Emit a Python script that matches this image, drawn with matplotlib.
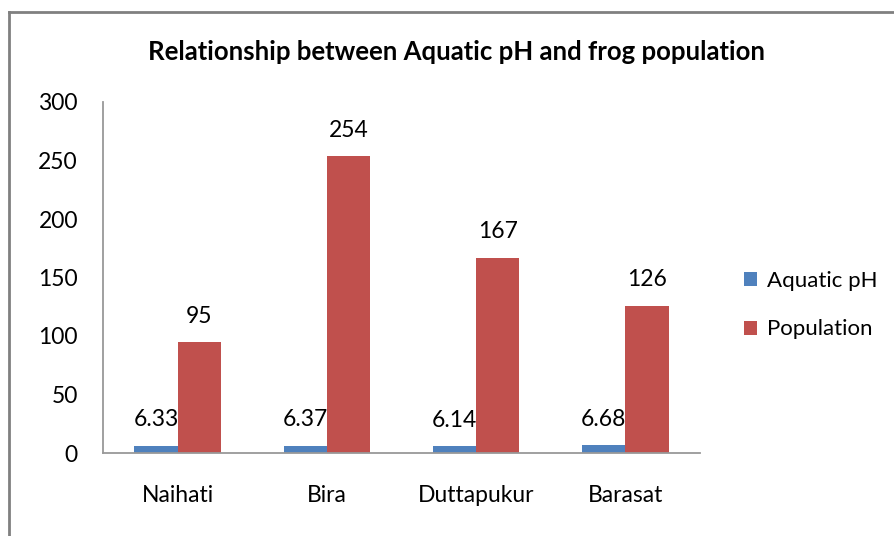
import matplotlib.pyplot as plt
import numpy as np
from matplotlib.lines import Line2D

plt.rcParams['font.family'] = ['Lato', 'DejaVu Sans']

# data
sites = ["Naihati", "Bira", "Duttapukur", "Barasat"]
aquatic_ph = [6.33, 6.37, 6.14, 6.68]
population = [95, 254, 167, 126]
y_ticks = [0, 50, 100, 150, 200, 250, 300]

fig = plt.figure(figsize=(8.95, 5.36), dpi=100)
ax = fig.add_axes([103 / 895, 1 - 453 / 536, 597 / 895, 351 / 536])

x = np.arange(len(sites))
w = 0.29
b1 = ax.bar(x - w / 2, aquatic_ph, width=w, color="#4F81BD", label="Aquatic pH")
b2 = ax.bar(x + w / 2, population, width=w, color="#C0504D", label="Population")

for bars, vals, fmt in [(b1, aquatic_ph, "{:.2f}"), (b2, population, "{:d}")]:
    for bar, v in zip(bars, vals):
        ax.annotate(fmt.format(v), (bar.get_x() + bar.get_width() / 2, bar.get_height()),
                    xytext=(0, 11), textcoords="offset points",
                    ha="center", va="bottom", fontsize=16.5)

ax.set_xlim(-0.5, len(sites) - 0.5)
ax.set_ylim(0, 300)
ax.set_yticks(y_ticks)
ax.set_xticks(x)
ax.set_xticklabels(sites)
ax.tick_params(axis="both", length=0, labelsize=16.5)
ax.tick_params(axis="y", pad=18)
ax.tick_params(axis="x", pad=23)
for side in ["top", "right"]:
    ax.spines[side].set_visible(False)
for side in ["left", "bottom"]:
    ax.spines[side].set_color("#999999")
    ax.spines[side].set_linewidth(1.3)

fig.text(457 / 895, 1 - 52 / 536, "Relationship between Aquatic pH and frog population",
         ha="center", va="center", fontsize=18.5, fontweight="bold")

ax.legend(loc="center left", bbox_to_anchor=(724 / 895, 1 - 305 / 536),
          bbox_transform=fig.transFigure, frameon=False, fontsize=16,
          handlelength=0.6, handleheight=0.6, handletextpad=0.45, labelspacing=1.3)

# chart area border (left and top edges visible)
fig.add_artist(Line2D([9 / 895, 9 / 895], [0, 1 - 12 / 536], transform=fig.transFigure,
                      color="#808080", linewidth=2))
fig.add_artist(Line2D([9 / 895, 1], [1 - 12 / 536, 1 - 12 / 536], transform=fig.transFigure,
                      color="#808080", linewidth=2))

fig.savefig("out.png", dpi=100)
